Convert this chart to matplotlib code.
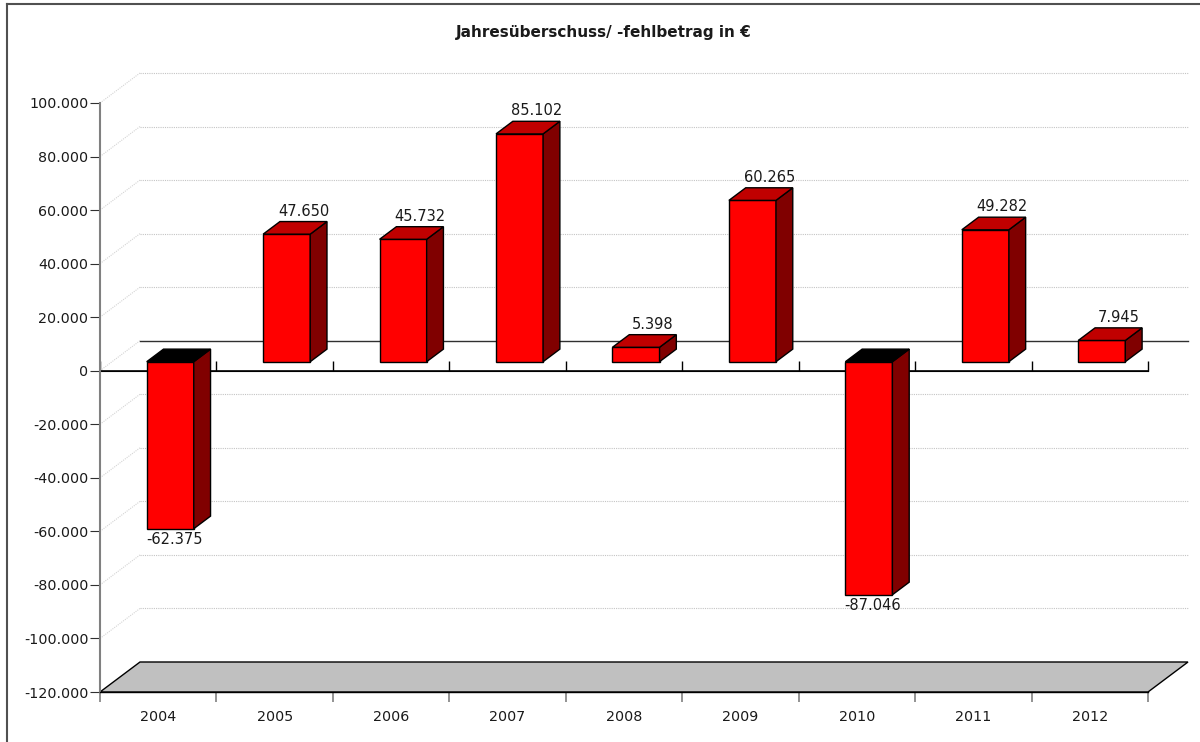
import numpy as np
import matplotlib
matplotlib.use("Agg")
import matplotlib.pyplot as plt
from matplotlib.patches import Polygon
from matplotlib.ticker import FixedLocator, FuncFormatter

# ---------------------------------------------------------------------------
# data
# ---------------------------------------------------------------------------
years = ["2004", "2005", "2006", "2007", "2008", "2009", "2010", "2011", "2012"]
values = [-62375, 47650, 45732, 85102, 5398, 60265, -87046, 49282, 7945]
y_ticks = list(range(-120000, 100001, 20000))
title = "Jahresüberschuss/ -fehlbetrag in €"


def de_fmt(v):
    return f"{int(round(v)):,}".replace(",", ".")


plt.rcParams['font.family'] = ['DejaVu Sans']

fig = plt.figure(figsize=(12, 7.42), dpi=100)
W, H = 1200, 742
ax = fig.add_axes([100 / W, (H - 692) / H, 1048 / W, 589 / H])
n = len(years)
ymin, ymax = -120000, 100000
ax.set_xlim(0, n)
ax.set_ylim(ymin, ymax)

# depth of the fake 3d box, in pixels -> data units
fig.canvas.draw()
bb = ax.get_window_extent()
ddx = 40 * n / bb.width
ddy = 30 * (ymax - ymin) / bb.height
f0, f1 = 0.30, 0.72          # bar front / back at these depth fractions
half = 0.202                 # half bar width in categories

# back wall grid (dotted) + diagonals
for v in y_ticks[1:]:
    ax.plot([0, ddx], [v, v + ddy], color='#d4d4d4', lw=0.8, ls=(0, (1, 1)),
            clip_on=False, zorder=1)
    if v == 0:
        continue
    ax.plot([ddx, n + ddx], [v + ddy, v + ddy], color='#c4c4c4', lw=0.8,
            ls=(0, (1, 1)), clip_on=False, zorder=1)

# back zero line and front zero line
ax.plot([ddx, n + ddx], [ddy, ddy], color='#303030', lw=1.0, clip_on=False, zorder=2)
ax.plot([0, n], [0, 0], color='black', lw=1.2, clip_on=False, zorder=2)

# floor
ax.add_patch(Polygon([(0, ymin), (ddx, ymin + ddy), (n + ddx, ymin + ddy), (n, ymin)],
                     closed=True, facecolor='#c0c0c0', edgecolor='black', lw=1.0,
                     clip_on=False, zorder=2))

# bars
for i, v in enumerate(values):
    x0 = i + 0.5 - half
    x1 = i + 0.5 + half
    a = (f0 * ddx, f0 * ddy)
    b = (f1 * ddx, f1 * ddy)
    front = [(x0 + a[0], a[1]), (x1 + a[0], a[1]), (x1 + a[0], v + a[1]), (x0 + a[0], v + a[1])]
    side = [(x1 + a[0], a[1]), (x1 + b[0], b[1]), (x1 + b[0], v + b[1]), (x1 + a[0], v + a[1])]
    top_y = max(v, 0)
    top = [(x0 + a[0], top_y + a[1]), (x1 + a[0], top_y + a[1]),
           (x1 + b[0], top_y + b[1]), (x0 + b[0], top_y + b[1])]
    kw = dict(closed=True, edgecolor='black', lw=1.0, clip_on=False, zorder=4)
    ax.add_patch(Polygon(front, facecolor='#ff0000', **kw))
    ax.add_patch(Polygon(side, facecolor='#800000', **kw))
    ax.add_patch(Polygon(top, facecolor='#c00000' if v > 0 else 'black', **kw))
    if v >= 0:
        ax.annotate(de_fmt(v), (i + 0.5 + f1 * ddx, v + f1 * ddy), xytext=(0, 3),
                    textcoords='offset pixels', ha='center', va='bottom',
                    fontsize=10.5, color='#1a1a1a', zorder=5)
    else:
        ax.annotate(de_fmt(v), (i + 0.5 + 0.4 * ddx, v + f0 * ddy), xytext=(0, -3),
                    textcoords='offset pixels', ha='center', va='top',
                    fontsize=10.5, color='#1a1a1a', zorder=5)

# axes styling
for s in ['top', 'right']:
    ax.spines[s].set_visible(False)
ax.spines['left'].set_color('#808080')
ax.spines['left'].set_linewidth(1.5)
ax.spines['bottom'].set_color('black')
ax.spines['bottom'].set_linewidth(1.0)
ax.set_facecolor('none')

ax.yaxis.set_major_locator(FixedLocator(y_ticks))
ax.yaxis.set_major_formatter(FuncFormatter(lambda v, p: de_fmt(v)))
ax.tick_params(axis='y', length=7.2, width=0.8, color='#303030', pad=1.2,
               labelsize=10.3, labelcolor='#1a1a1a')

ax.xaxis.set_major_locator(FixedLocator(np.arange(n + 1)))
ax.xaxis.set_major_formatter(FuncFormatter(lambda v, p: ""))
ax.xaxis.set_minor_locator(FixedLocator(np.arange(n) + 0.5))
ax.xaxis.set_minor_formatter(FuncFormatter(lambda v, p: years[int(v)]))
ax.tick_params(axis='x', which='major', length=7.2, width=1.2, color='#808080')
ax.tick_params(axis='x', which='minor', length=0, pad=13, labelsize=10.3,
               labelcolor='#1a1a1a')

# zero axis ticks
sec = ax.secondary_xaxis((0 - ymin) / (ymax - ymin))
sec.spines['bottom'].set_visible(False)
sec.xaxis.set_major_locator(FixedLocator(np.arange(n + 1)))
sec.xaxis.set_major_formatter(FuncFormatter(lambda v, p: ""))
sec.tick_params(axis='x', length=7.2, width=1.0, color='black')

# title and frame
fig.text(604 / W, 1 - 33 / H, title, ha='center', va='center', fontsize=11,
         fontweight='bold', color='#1a1a1a')
fig.add_artist(plt.Line2D([7 / W, 7 / W], [0, 1 - 4 / H], color='#505050', lw=1.5,
                          transform=fig.transFigure))
fig.add_artist(plt.Line2D([7 / W, 1], [1 - 4 / H, 1 - 4 / H], color='#505050', lw=1.5,
                          transform=fig.transFigure))

fig.savefig("out.png", dpi=100)
